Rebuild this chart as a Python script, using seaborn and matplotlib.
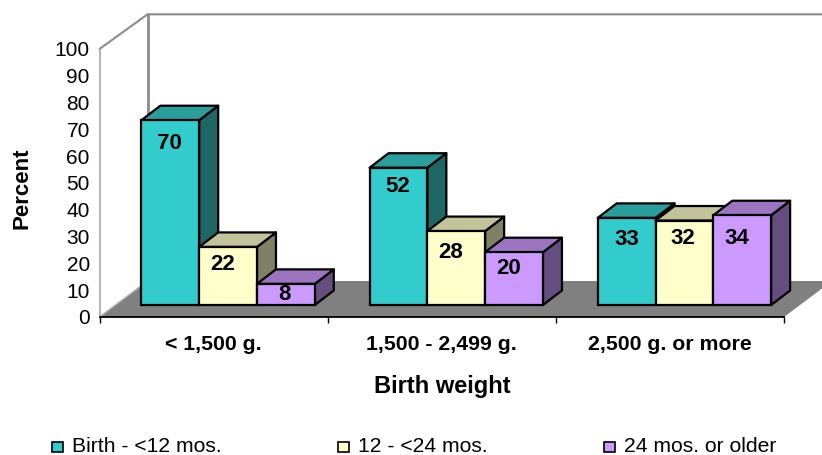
import matplotlib
matplotlib.use("Agg")
import matplotlib.pyplot as plt
from matplotlib.patches import Polygon, Rectangle
import pandas as pd
import seaborn as sns

categories = ["< 1,500 g.", "1,500 - 2,499 g.", "2,500 g. or more"]
series_names = ["Birth - <12 mos.", "12 - <24 mos.", "24 mos. or older"]
birth_12 = [70, 52, 33]
m12_24 = [22, 28, 32]
m24_up = [8, 20, 34]

front_colors = ["#33CCCC", "#FFFFCC", "#CC99FF"]
top_colors = ["#2A9D9D", "#C2C29B", "#9C74BF"]
side_colors = ["#1F6666", "#808066", "#664D80"]

# label placement nudges in pixels (dx, dy below bar top) -- ordered by bar left-to-right
label_dx = [-1, -5, -1, -1, -6, -5, 0, -2, -5]
label_dy = [23, 18, 11, 19, 21, 16, 22, 18, 23]

W, H = 822, 455
sns.set_theme(style="white")
plt.rcParams["font.family"] = ["Liberation Sans", "DejaVu Sans"]

fig = plt.figure(figsize=(W / 100, H / 100), dpi=100)
L, R, B0, T0 = 99.5, 784, 317, 49
frame = fig.add_axes([L / W, 1 - B0 / H, (R - L) / W, (B0 - T0) / H])
frame.set_xlim(-0.5, 2.5)
frame.set_ylim(0, 100)
px_x = 3 / (R - L)
px_y = 100 / (B0 - T0)
wx, wy = 48 * px_x, 36 * px_y

floor = Polygon([(-0.5, 0), (-0.5 + wx, wy), (2.5 + wx, wy), (2.5, 0)], closed=True,
                facecolor="#808080", edgecolor="none", clip_on=False, zorder=0.5)
frame.add_patch(floor)
gray = "#8c8c8c"
frame.plot([-0.5, -0.5 + wx], [0, wy], color="#b0b0b0", lw=1, clip_on=False, zorder=0.6)
frame.plot([-0.5, -0.5 + wx, 2.5 + 2 * wx], [100, 100 + wy - 0.5, 100 + wy - 0.5], color=gray, lw=1.5, clip_on=False)
frame.plot([-0.5 + wx, -0.5 + wx], [wy, 100 + wy - 0.5], color=gray, lw=2, clip_on=False, zorder=0.4)

for s in ["top", "right"]:
    frame.spines[s].set_visible(False)
frame.spines["left"].set_color("#a8a8a8")
frame.spines["left"].set_linewidth(1.2)
frame.spines["bottom"].set_color("black")
frame.spines["bottom"].set_linewidth(1.3)
frame.spines["bottom"].set_zorder(3)
frame.set_yticks(range(0, 101, 10))
frame.tick_params(axis="y", length=0, pad=7, labelsize=15, colors="black")
frame.set_xticks([-0.5, 0.5, 1.5, 2.5])
frame.set_xticklabels([])
frame.tick_params(axis="x", which="major", length=4.5, width=1, color="black", bottom=True)
frame.set_xticks([0, 1, 2], minor=True)
frame.set_xticklabels(categories, minor=True, fontweight="bold", fontsize=15.3, color="black")
frame.tick_params(axis="x", which="minor", length=0, pad=13)
frame.set_xlabel("Birth weight", fontweight="bold", fontsize=17, color="black", va="center")
frame.xaxis.set_label_coords((442 - L) / (R - L), (B0 - 386) / (B0 - T0))
frame.set_ylabel("Percent", fontweight="bold", fontsize=16, color="black", va="center")
frame.yaxis.set_label_coords((22 - L) / (R - L), (B0 - 188) / (B0 - T0))

df = pd.DataFrame({
    "category": categories * 3,
    "series": [series_names[0]] * 3 + [series_names[1]] * 3 + [series_names[2]] * 3,
    "value": birth_12 + m12_24 + m24_up,
})

Yb, Sc = 305, 2.64
bars_ax = fig.add_axes([(L + 14.5) / W, 1 - Yb / H, (R - L) / W, 100 * Sc / H], facecolor="none")
sns.barplot(data=df, x="category", y="value", hue="series", order=categories, hue_order=series_names,
            palette=front_colors, saturation=1, width=0.76, gap=0, dodge=True, legend=False, ax=bars_ax,
            edgecolor="black", linewidth=1.6)
bars_ax.set_xlim(-0.5, 2.5)
bars_ax.set_ylim(0, 100)
bars_ax.axis("off")

dx = 19 * px_x
dy = 14.5 / Sc
items = []
for si, container in enumerate(bars_ax.containers):
    for bar in container:
        items.append((bar.get_x(), si, bar))
items.sort(key=lambda t: t[0])
for i, (x0, si, bar) in enumerate(items):
    w, h = bar.get_width(), bar.get_height()
    z = 2 + i * 0.1
    bar.set_zorder(z + 0.05)
    bar.set_clip_on(False)
    top = Polygon([(x0, h), (x0 + dx, h + dy), (x0 + w + dx, h + dy), (x0 + w, h)], closed=True,
                  facecolor=top_colors[si], edgecolor="black", linewidth=1.6, joinstyle="round",
                  clip_on=False, zorder=z)
    side = Polygon([(x0 + w, 0), (x0 + w + dx, dy), (x0 + w + dx, h + dy), (x0 + w, h)], closed=True,
                   facecolor=side_colors[si], edgecolor="black", linewidth=1.6, joinstyle="round",
                   clip_on=False, zorder=z)
    bars_ax.add_patch(side)
    bars_ax.add_patch(top)
    bars_ax.annotate(f"{h:.0f}", xy=(x0 + w / 2, h), xycoords="data",
                     xytext=(label_dx[i] * 0.72, -label_dy[i] * 0.72), textcoords="offset points",
                     ha="center", va="center", fontsize=16, fontweight="bold", color="black", zorder=10)

leg_x = [52, 338, 604]
for name, col, lx in zip(series_names, front_colors, leg_x):
    fig.add_artist(Rectangle((lx / W, 1 - 452 / H), 10.5 / W, 10.5 / H, transform=fig.transFigure,
                             facecolor=col, edgecolor="black", linewidth=1.2))
    fig.text((lx + 20) / W, 1 - 446.5 / H, name, ha="left", va="center", fontsize=15.2, color="black")

fig.savefig("out.png", dpi=100)
